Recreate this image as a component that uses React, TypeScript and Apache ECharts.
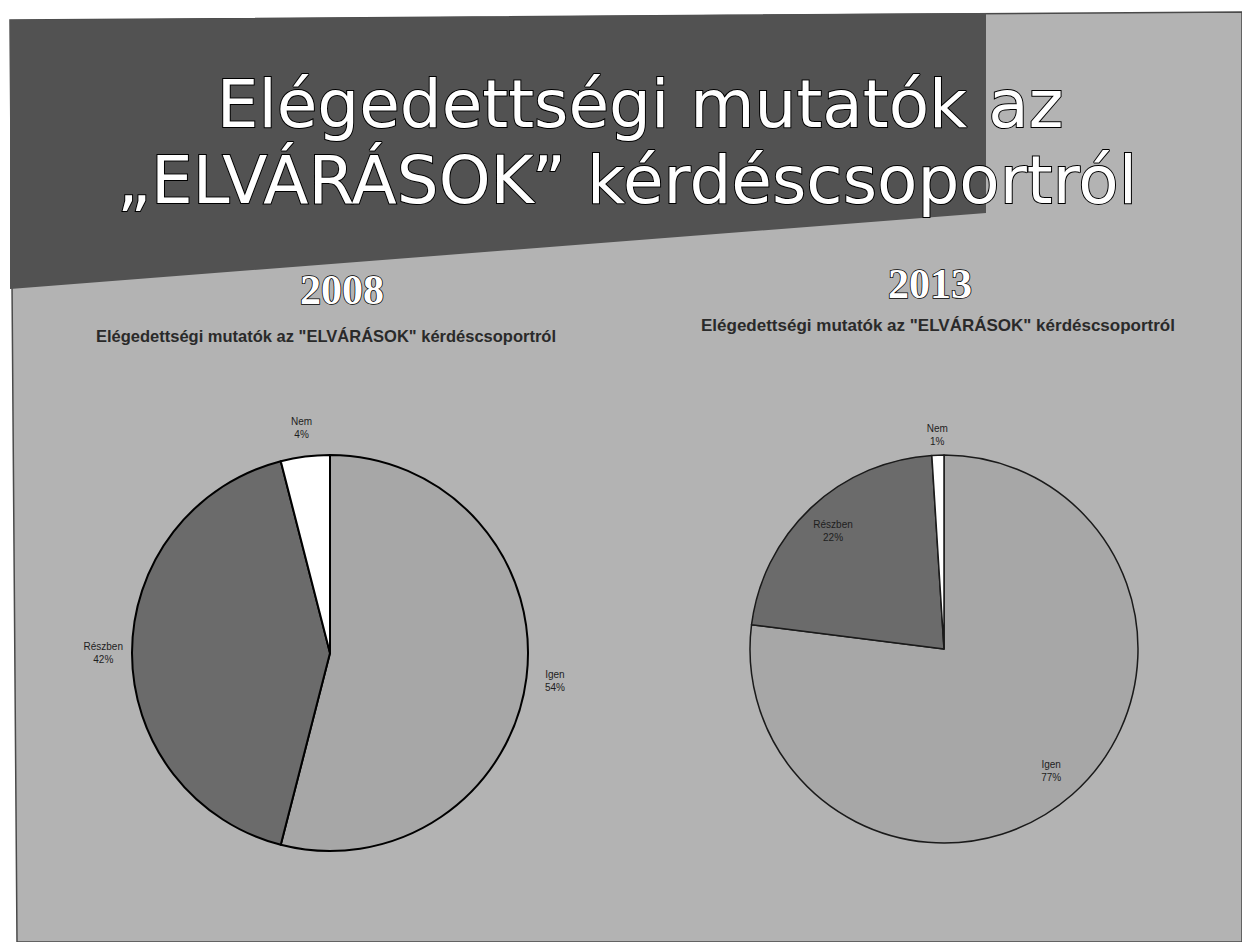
import React, { useEffect, useRef } from "react";
import * as echarts from "echarts";

const categories = ["Igen", "Részben", "Nem"];
const values2008 = [54, 42, 4];
const values2013 = [77, 22, 1];
const yearLabels = ["2008", "2013"];
const slideTitle = ["Elégedettségi mutatók az", "„ELVÁRÁSOK” kérdéscsoportról"];
const chartSubtitle = "Elégedettségi mutatók az \"ELVÁRÁSOK\" kérdéscsoportról";

const sliceColors = ["#a7a7a7", "#6b6b6b", "#ffffff"];

function mkData(vals: number[]) {
  return categories.map((c, i) => ({
    name: c,
    value: vals[i],
    itemStyle: { color: sliceColors[i] },
  }));
}

export default function App() {
  const ref = useRef<HTMLDivElement>(null);
  useEffect(() => {
    if (!ref.current) return;
    const chart = echarts.init(ref.current, undefined, { renderer: "svg" });
    const c1: [number, number] = [330, 653];
    const r1 = 198;
    const c2: [number, number] = [944, 649];
    const r2 = 194;
    const labelFont = {
      fontFamily: "Liberation Sans, Arial, sans-serif",
      fontSize: 10,
      color: "#1e1e1e",
      lineHeight: 13,
      formatter: "{b}\n{d}%",
    };
    const overlay = (center: [number, number], radius: [number, number], vals: number[], mask?: boolean[]) => ({
      type: "pie",
      center,
      radius,
      startAngle: 90,
      silent: true,
      avoidLabelOverlap: false,
      percentPrecision: 0,
      itemStyle: { color: "transparent", borderWidth: 0 },
      label: { show: true, position: "inside", ...labelFont },
      labelLine: { show: false },
      data: categories.map((c, i) => ({
        name: c,
        value: vals[i],
        itemStyle: { color: "transparent" },
        label: { show: mask ? mask[i] : true },
      })),
      z: 5,
    });

    const titleText = (txt: string, x: number, y: number, font: string, shadow = 3, lw = 1.5) => ({
      type: "text",
      x,
      y,
      style: {
        text: txt,
        font,
        fill: "#ffffff",
        stroke: "#000000",
        lineWidth: lw,
        align: "center",
        verticalAlign: "middle",
        textShadowColor: "#151515",
        textShadowOffsetX: shadow,
        textShadowOffsetY: shadow,
        textShadowBlur: 0,
      },
      z: 11,
    });

    const subtitle = (x: number, y: number, size: number) => ({
      type: "text",
      x,
      y,
      style: {
        text: chartSubtitle,
        font: `bold ${size}px "Liberation Sans"`,
        fill: "#2a2a2a",
        align: "center",
        verticalAlign: "middle",
      },
      z: 10,
    });

    chart.setOption({
      animation: false,
      backgroundColor: "#ffffff",
      graphic: [
        {
          type: "polygon",
          shape: { points: [[10, 20], [1242, 12], [1242, 942], [17, 942]] },
          style: { fill: "#b3b3b3", stroke: "#4a4a4a", lineWidth: 1.5 },
          z: 0,
        },
        {
          type: "polygon",
          shape: { points: [[10, 20], [986, 13], [986, 213], [10, 289]] },
          style: { fill: "#525252" },
          z: 1,
        },
        titleText(slideTitle[0], 640, 104, '66px "DejaVu Sans"', 3, 2),
        titleText(slideTitle[1], 627, 180, '66px "DejaVu Sans"', 3, 2),
        titleText(yearLabels[0], 342, 290, 'bold 42px "Liberation Serif"', 2, 1.5),
        titleText(yearLabels[1], 930, 284, 'bold 42px "Liberation Serif"', 2, 1.5),
        subtitle(326, 336, 16.5),
        subtitle(938, 325, 17),
      ],
      series: [
        {
          type: "pie",
          center: c1,
          radius: [0, r1],
          startAngle: 90,
          silent: true,
          label: { show: false },
          labelLine: { show: false },
          itemStyle: { borderColor: "#000000", borderWidth: 2 },
          data: mkData(values2008),
          z: 2,
        },
        overlay(c1, [r1 * 1.1, r1 * 1.16], values2008),
        {
          type: "pie",
          center: c2,
          radius: [0, r2],
          startAngle: 90,
          silent: true,
          label: { show: false },
          labelLine: { show: false },
          itemStyle: { borderColor: "#1a1a1a", borderWidth: 1.5 },
          data: mkData(values2013),
          z: 2,
        },
        overlay(c2, [r2 * 0.7, r2 * 0.94], values2013, [true, true, false]),
        overlay(c2, [r2 * 1.06, r2 * 1.12], values2013, [false, false, true]),
      ],
    });
    return () => chart.dispose();
  }, []);
  return (
    <div
      ref={ref}
      style={{ position: "absolute", left: 0, top: 0, width: 1242, height: 942 }}
    />
  );
}
